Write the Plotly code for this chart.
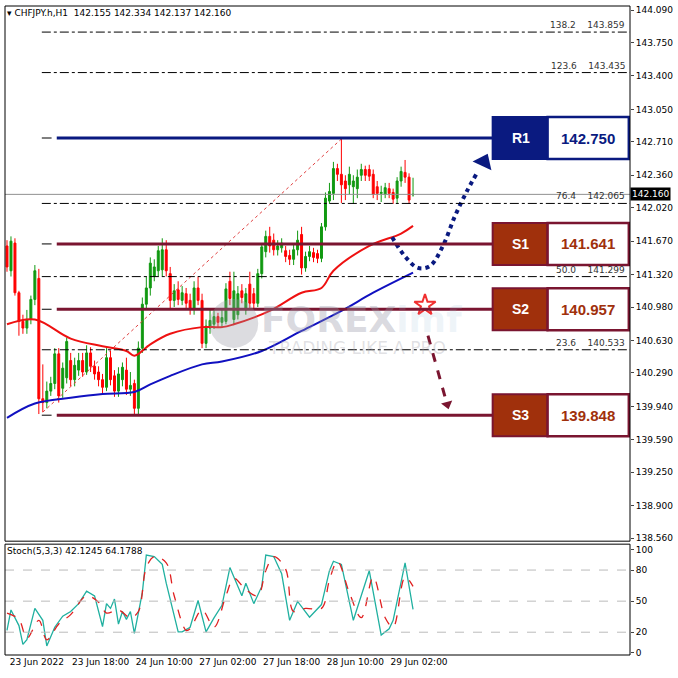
import plotly.graph_objects as go
from plotly.subplots import make_subplots

# candles, hourly bars from 23 Jun 02:00 (weekend removed)
opens = [141.62, 141.36, 141.65, 141.13, 140.83, 140.76, 140.85, 141.06, 141.28, 140.02,
         139.98, 140.10, 140.18, 140.49, 140.13, 140.24, 140.42, 140.22, 140.32, 140.42,
         140.30, 140.50, 140.36, 140.30, 140.22, 140.14, 140.45, 140.26, 140.10, 140.22,
         140.32, 140.12, 140.18, 139.92, 140.55, 141.01, 141.18, 141.30, 141.36, 141.37,
         141.58, 141.33, 141.05, 141.16, 141.05, 141.12, 141.05, 140.96, 141.18, 141.05,
         140.60, 140.76, 140.80, 140.88, 140.82, 140.83, 141.25, 140.85, 140.90, 141.15,
         140.95, 141.22, 141.12, 141.02, 141.33, 141.56, 141.72, 141.68, 141.58, 141.60,
         141.57, 141.52, 141.48, 141.58, 141.74, 141.39, 141.51, 141.55, 141.54, 141.49,
         141.82, 142.09, 142.17, 142.43, 142.37, 142.30, 142.26, 142.24, 142.22, 142.36,
         142.42, 142.42, 142.37, 142.24, 142.17, 142.16, 142.22, 142.18, 142.12, 142.30,
         142.39, 142.34, 142.155]
highs = [141.68, 141.72, 141.70, 141.15, 140.90, 140.95, 141.10, 141.42, 141.38, 140.38,
         140.20, 140.25, 140.55, 140.55, 140.40, 140.66, 140.50, 140.45, 140.50, 140.50,
         140.58, 140.56, 140.42, 140.36, 140.28, 140.55, 140.52, 140.32, 140.35, 140.40,
         140.45, 140.30, 140.22, 140.62, 141.08, 141.30, 141.50, 141.48, 141.62, 141.70,
         141.68, 141.40, 141.22, 141.25, 141.20, 141.18, 141.12, 141.25, 141.30, 141.12,
         140.85, 140.95, 140.95, 140.92, 140.95, 141.23, 141.35, 141.35, 141.20, 141.22,
         141.18, 141.35, 141.18, 141.38, 141.65, 141.78, 141.82, 141.75, 141.68, 141.70,
         141.62, 141.58, 141.65, 141.78, 141.82, 141.56, 141.62, 141.60, 141.58, 141.86,
         142.18, 142.28, 142.50, 142.48, 142.74, 142.36, 142.45, 142.36, 142.42, 142.48,
         142.46, 142.47, 142.42, 142.30, 142.25, 142.28, 142.28, 142.22, 142.34, 142.45,
         142.52, 142.38, 142.334]
lows = [141.35, 141.30, 141.10, 140.68, 140.70, 140.70, 140.80, 141.00, 139.86, 139.88,
        139.92, 140.05, 140.12, 139.98, 140.03, 140.18, 140.15, 140.15, 140.26, 140.25,
        140.27, 140.30, 140.22, 140.15, 140.08, 140.10, 140.16, 140.04, 140.04, 140.15,
        140.06, 140.05, 139.85, 139.84, 140.50, 140.95, 141.10, 141.25, 141.30, 141.30,
        141.30, 140.95, 140.98, 141.00, 141.00, 140.96, 140.90, 140.90, 141.00, 140.55,
        140.55, 140.70, 140.75, 140.76, 140.76, 140.80, 141.00, 140.80, 140.85, 141.02,
        140.90, 140.95, 140.95, 140.98, 141.28, 141.50, 141.55, 141.52, 141.52, 141.55,
        141.45, 141.42, 141.42, 141.52, 141.32, 141.35, 141.46, 141.45, 141.44, 141.45,
        141.78, 142.06, 142.10, 142.30, 142.07, 142.10, 142.16, 142.06, 142.12, 142.30,
        142.30, 142.30, 142.12, 142.10, 142.08, 142.12, 142.12, 142.06, 142.06, 142.24,
        142.28, 142.06, 142.137]
closes = [141.40, 141.67, 141.13, 140.83, 140.76, 140.85, 141.06, 141.36, 140.02, 139.98,
          140.10, 140.18, 140.49, 140.05, 140.34, 140.62, 140.22, 140.37, 140.42, 140.30,
          140.50, 140.36, 140.28, 140.22, 140.14, 140.45, 140.22, 140.10, 140.28, 140.35,
          140.12, 140.16, 139.92, 140.55, 141.01, 141.18, 141.44, 141.40, 141.57, 141.58,
          141.36, 141.05, 141.15, 141.06, 141.13, 141.02, 140.96, 141.18, 141.05, 140.60,
          140.78, 140.84, 140.88, 140.82, 140.87, 141.17, 141.07, 141.15, 141.12, 141.08,
          141.12, 141.02, 141.02, 141.33, 141.61, 141.72, 141.62, 141.58, 141.62, 141.65,
          141.51, 141.48, 141.58, 141.68, 141.39, 141.51, 141.56, 141.50, 141.49, 141.82,
          142.12, 142.19, 142.43, 142.37, 142.26, 142.22, 142.37, 142.30, 142.34, 142.42,
          142.36, 142.35, 142.16, 142.17, 142.18, 142.23, 142.17, 142.11, 142.30, 142.40,
          142.34, 142.10, 142.160]
bar_index = list(range(len(closes)))

# moving averages (sampled)
ma_red_idx = [0, 7, 16, 24, 30, 32, 36, 41, 49, 54, 57, 66, 74, 79, 82, 91, 99, 102]
ma_red_val = [140.80, 140.85, 140.65, 140.57, 140.52, 140.47, 140.59, 140.70, 140.77, 140.77,
              140.80, 140.94, 141.13, 141.18, 141.36, 141.62, 141.75, 141.83]
ma_blue_idx = [0, 7, 16, 24, 32, 36, 41, 49, 54, 64, 74, 84, 92, 102]
ma_blue_val = [139.82, 139.97, 140.03, 140.07, 140.09, 140.17, 140.26, 140.38, 140.41, 140.52,
               140.73, 140.94, 141.13, 141.34]

# stochastic
k_idx = [0, 1, 3, 4, 5, 7, 9, 10, 12, 14, 16, 18, 20, 22, 24, 25, 26, 27, 28, 29, 30, 31, 32,
         34, 35, 37, 39, 40, 43, 44, 46, 48, 50, 52, 54, 56, 57, 59, 60, 62, 64, 65, 67, 69, 71,
         73, 76, 79, 81, 82, 84, 87, 91, 94, 96, 97, 100, 102]
k_val = [21.8, 41.5, 26.4, 8.2, 12.7, 43, 31.5, 6.7, 24.8, 35.5, 40, 47.6, 59.7, 55, 25.5, 47.6,
         43, 52, 27.9, 40, 32.4, 40, 18.8, 58.2, 94.5, 93, 85.5, 67.3, 20.3, 20.3, 24.8, 50.6,
         20.3, 33.9, 46, 82.4, 73.3, 55.2, 67.3, 47.6, 64.2, 94.5, 93, 76.4, 31.5, 49.7, 34.5,
         46.7, 79.4, 88.5, 85.5, 31.5, 79.4, 17.3, 23.3, 31.5, 87, 42.1]
d_idx = [0, 3, 5, 8, 10, 13, 16, 20, 23, 25, 28, 31, 33, 35, 37, 40, 42, 45, 46, 49, 52, 55,
         57, 60, 63, 65, 67, 70, 72, 75, 79, 81, 83, 86, 89, 92, 95, 97, 100, 102]
d_val = [38.5, 32.4, 14.2, 31.5, 12.7, 27.9, 37, 55, 49, 38.5, 41.5, 34, 40, 82.4, 93, 87, 55.2,
         21.8, 23.3, 41.5, 24.8, 55.2, 71.8, 61.2, 55.2, 79.4, 93, 80.9, 40, 43, 43, 70.3, 88.5,
         58.2, 34, 73.3, 34, 24.8, 73.3, 64.2]

# levels
level_names = ["R1", "S1", "S2", "S3"]
level_values = [142.750, 141.641, 140.957, 139.848]
fib_names = ["138.2", "123.6", "76.4", "50.0", "23.6"]
fib_values = [143.859, 143.435, 142.065, 141.299, 140.533]
price_ticks = [144.090, 143.750, 143.400, 143.050, 142.710, 142.360, 142.020, 141.670, 141.320,
               140.980, 140.630, 140.290, 139.940, 139.590, 139.250, 138.900, 138.560]
time_ticks = [0, 16, 32, 48, 64, 80, 96]
time_labels = ["23 Jun 2022", "23 Jun 18:00", "24 Jun 10:00", "27 Jun 02:00",
               "27 Jun 18:00", "28 Jun 10:00", "29 Jun 02:00"]
stoch_ticks = [0, 20, 50, 80, 100]

# drawn arrows (idx, price)
blue_arrow_x = [96.75, 100, 103.25, 106.25, 109.5, 112.5, 115.5, 118]
blue_arrow_y = [141.71, 141.51, 141.39, 141.41, 141.62, 141.93, 142.19, 142.38]
red_arrow_x = [105.75, 110.3]
red_arrow_y = [140.68, 140.0]

FONT = "DejaVu Sans"
NAVY = "#0a1a80"
MAROON = "#7a1530"
RUST = "#a0300c"

fig = make_subplots(rows=2, cols=1, shared_xaxes=True, vertical_spacing=3 / 650,
                    row_heights=[536, 111])

# fib anchor diagonal
fig.add_trace(go.Scatter(x=[9, 84], y=[lows[9], highs[84]], mode="lines",
                         line=dict(color="#e04040", width=1, dash="dot"),
                         hoverinfo="skip", showlegend=False), row=1, col=1)

fig.add_trace(go.Candlestick(
    x=bar_index, open=opens, high=highs, low=lows, close=closes,
    increasing=dict(line=dict(color="#119911", width=1), fillcolor="#119911"),
    decreasing=dict(line=dict(color="#ff0000", width=1), fillcolor="#ff0000"),
    whiskerwidth=0, showlegend=False), row=1, col=1)

fig.add_trace(go.Scatter(x=ma_red_idx, y=ma_red_val, mode="lines", line=dict(color="#ee1111", width=2, shape="spline"),
                         showlegend=False), row=1, col=1)
fig.add_trace(go.Scatter(x=ma_blue_idx, y=ma_blue_val, mode="lines", line=dict(color="#1010c0", width=2, shape="spline"),
                         showlegend=False), row=1, col=1)

# arrows
fig.add_trace(go.Scatter(x=blue_arrow_x, y=blue_arrow_y, mode="lines",
                         line=dict(color=NAVY, width=4, dash="dot", shape="spline"), showlegend=False), row=1, col=1)
fig.add_trace(go.Scatter(x=[119.8], y=[142.5], mode="markers",
                         marker=dict(symbol="triangle-up", size=18, angle=25, color=NAVY), showlegend=False), row=1, col=1)
fig.add_trace(go.Scatter(x=red_arrow_x, y=red_arrow_y, mode="lines",
                         line=dict(color=MAROON, width=3, dash="dash"), showlegend=False), row=1, col=1)
fig.add_trace(go.Scatter(x=[110.6], y=[139.96], mode="markers",
                         marker=dict(symbol="triangle-down", size=10, angle=-15, color=MAROON), showlegend=False), row=1, col=1)
fig.add_trace(go.Scatter(x=[105], y=[141.0], mode="markers",
                         marker=dict(symbol="star-open", size=16, color="#f03030", line=dict(width=2)),
                         showlegend=False), row=1, col=1)

# stochastic
fig.add_trace(go.Scatter(x=k_idx, y=k_val, mode="lines", line=dict(color="#20b0a0", width=1.3),
                         showlegend=False), row=2, col=1)
fig.add_trace(go.Scatter(x=d_idx, y=d_val, mode="lines", line=dict(color="#e02020", width=1.3, dash="dash", shape="spline"),
                         showlegend=False), row=2, col=1)

shapes = []
# current price line
shapes.append(dict(type="line", xref="x domain", yref="y", x0=0, x1=1, y0=closes[-1], y1=closes[-1],
                   line=dict(color="#909090", width=1)))
for name, v in zip(fib_names, fib_values):
    shapes.append(dict(type="line", xref="x", yref="y", x0=8.75, x1=157, y0=v, y1=v,
                       line=dict(color="black", width=1, dash="dashdot")))
    fig.add_annotation(xref="x domain", yref="y", x=0.995, y=v, text=f"{name}&nbsp;&nbsp;&nbsp;&nbsp;{v:.3f}",
                       showarrow=False, xanchor="right", yanchor="bottom", font=dict(family=FONT, size=9, color="#333"))

for name, v in zip(level_names, level_values):
    col = NAVY if name == "R1" else MAROON
    fill = NAVY if name == "R1" else RUST
    txt = NAVY if name == "R1" else RUST
    shapes.append(dict(type="line", xref="x", yref="y", x0=8.75, x1=11.2, y0=v, y1=v,
                       line=dict(color="black", width=1)))
    shapes.append(dict(type="line", xref="x", yref="y", x0=12.5, x1=122, y0=v, y1=v,
                       line=dict(color=col, width=3)))
    shapes.append(dict(type="rect", xref="x", yref="y", x0=122, x1=135.8, y0=v - 0.22, y1=v + 0.22,
                       fillcolor=fill, line=dict(color=col, width=2)))
    shapes.append(dict(type="rect", xref="x", yref="y", x0=135.8, x1=156.2, y0=v - 0.22, y1=v + 0.22,
                       fillcolor="white", line=dict(color=col, width=2.5)))
    fig.add_annotation(x=129, y=v, xref="x", yref="y", text=f"<b>{name}</b>", showarrow=False,
                       font=dict(family="Liberation Sans", size=14, color="white"))
    fig.add_annotation(x=146, y=v, xref="x", yref="y", text=f"<b>{v:.3f}</b>", showarrow=False,
                       font=dict(family="Liberation Sans", size=15, color=txt))

# stoch grid levels
for lv in [20, 50, 80]:
    shapes.append(dict(type="line", xref="x2 domain", yref="y2", x0=0, x1=1, y0=lv, y1=lv,
                       line=dict(color="#bbbbbb", width=1, dash="dash")))
# panel frames
shapes.append(dict(type="rect", xref="x domain", yref="y domain", x0=0, x1=1, y0=0, y1=1,
                   line=dict(color="black", width=1)))
shapes.append(dict(type="rect", xref="x2 domain", yref="y2 domain", x0=0, x1=1, y0=0, y1=1,
                   line=dict(color="black", width=1)))
fig.update_layout(shapes=shapes)

# watermark
fig.add_annotation(xref="x", yref="y", x=57, y=140.87, text="●", showarrow=False,
                   font=dict(size=64, color="rgba(150,150,160,0.33)"))
fig.add_annotation(xref="x", yref="y", x=89, y=140.85,
                   text="<b>FOREX</b><span style='color:rgba(150,185,215,0.45)'><b>imf</b></span>",
                   showarrow=False, font=dict(family="DejaVu Sans", size=36, color="rgba(150,150,165,0.36)"))
fig.add_annotation(xref="x", yref="y", x=88, y=140.55, text="TRADING LIKE A PRO", showarrow=False,
                   font=dict(family="DejaVu Sans", size=17, color="rgba(160,160,170,0.33)"))

# header texts
fig.add_annotation(xref="paper", yref="paper", x=0.0, y=1.0, xanchor="left", yanchor="top",
                   text="▾ CHFJPY.h,H1  142.155 142.334 142.137 142.160", showarrow=False,
                   font=dict(family=FONT, size=9, color="black"))
fig.add_annotation(xref="x2 domain", yref="y2 domain", x=0.0, y=1.0, xanchor="left", yanchor="top",
                   text="Stoch(5,3,3) 42.1245 64.1788", showarrow=False,
                   font=dict(family=FONT, size=9, color="black"))
# current price label
fig.add_annotation(xref="paper", yref="y", x=1.0, y=closes[-1], xanchor="left", text="142.160",
                   showarrow=False, bgcolor="black", font=dict(family=FONT, size=9, color="white"),
                   borderpad=1)

fig.update_layout(
    width=678, height=678,
    margin=dict(l=5, r=45, t=5, b=23),
    paper_bgcolor="white", plot_bgcolor="white",
    showlegend=False, hovermode=False,
    font=dict(family=FONT, size=9, color="black"),
)
fig.update_xaxes(range=[-0.5, 156.5], showgrid=False, zeroline=False, rangeslider_visible=False)
fig.update_xaxes(tickvals=[t + 7.5 for t in time_ticks], ticktext=time_labels, ticks="",
                 tickfont=dict(size=9), row=2, col=1)
fig.update_yaxes(side="right", range=[138.529, 144.132], tickvals=price_ticks,
                 ticktext=[f"{t:.3f}" for t in price_ticks], showgrid=False, zeroline=False,
                 ticks="outside", ticklen=3, tickfont=dict(size=9), row=1, col=1)
fig.update_yaxes(side="right", range=[-2, 105], tickvals=stoch_ticks, showgrid=False, zeroline=False,
                 ticks="outside", ticklen=3, tickfont=dict(size=9), row=2, col=1)

fig.write_html("out.html", config={"displayModeBar": False},
               post_script="document.body.style.margin='0';document.body.style.overflow='hidden';")
